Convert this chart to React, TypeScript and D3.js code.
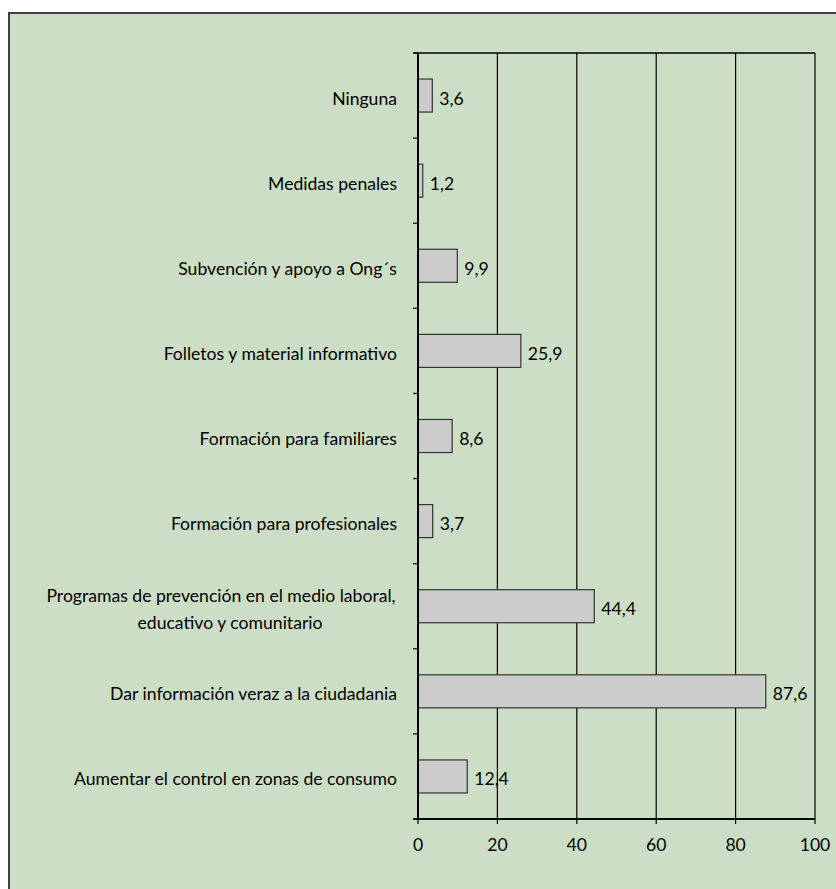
import React from "react";
import * as d3 from "d3";

// Categories from top to bottom, with their percentages
const categories: string[][] = [
  ["Ninguna"],
  ["Medidas penales"],
  ["Subvención y apoyo a Ong´s"],
  ["Folletos y material informativo"],
  ["Formación para familiares"],
  ["Formación para profesionales"],
  ["Programas de prevención en el medio laboral,", "educativo y comunitario"],
  ["Dar información veraz a la ciudadania"],
  ["Aumentar el control en zonas de consumo"],
];
const values: number[] = [3.6, 1.2, 9.9, 25.9, 8.6, 3.7, 44.4, 87.6, 12.4];
const xTicks: number[] = [0, 20, 40, 60, 80, 100];

const W = 836;
const H = 889;
const BG = "#CCDEC6";
const FONT = "Lato, 'Open Sans', sans-serif";
const FS = 17.6;

const fmt = (v: number) => v.toFixed(1).replace(".", ",");

export default function App() {
  const left = 418;
  const right = 815;
  const top = 53;
  const bottom = 819;

  const x = d3.scaleLinear().domain([0, 100]).range([left, right]);
  const keys = categories.map((_, i) => String(i));
  const y = d3
    .scaleBand<string>()
    .domain(keys)
    .range([top, bottom])
    .paddingInner(0.612)
    .paddingOuter(0.306);
  const band = (bottom - top) / categories.length;
  const center = (i: number) => top + band * (i + 0.5);

  return (
    <div style={{ position: "absolute", left: 0, top: 0, width: W, height: H }}>
      <svg width={W} height={H} style={{ display: "block" }} fontFamily={FONT}>
        <rect x={0} y={0} width={W} height={H} fill="#ffffff" />
        <rect x={9} y={13} width={W + 20} height={H + 20} fill={BG} stroke="#404040" strokeWidth={2} />

        {/* vertical gridlines */}
        {xTicks.slice(1).map((t) => (
          <line key={"g" + t} x1={x(t)} x2={x(t)} y1={top} y2={bottom} stroke="#000" strokeWidth={1.2} />
        ))}
        {/* top edge of plot */}
        <line x1={left - 5} x2={right} y1={top} y2={top} stroke="#000" strokeWidth={1.5} />

        {/* bars */}
        {values.map((v, i) => (
          <rect
            key={"b" + i}
            x={x(0)}
            y={y(String(i))!}
            width={x(v) - x(0)}
            height={y.bandwidth()}
            fill="#CCCCCC"
            stroke="#333333"
            strokeWidth={1.2}
          />
        ))}

        {/* value labels */}
        {values.map((v, i) => (
          <text key={"v" + i} x={x(v) + 7} y={center(i) + 9} fontSize={FS} fill="#000">
            {fmt(v)}
          </text>
        ))}

        {/* category axis */}
        <line x1={left} x2={left} y1={top} y2={bottom} stroke="#000" strokeWidth={2} />
        {d3.range(categories.length + 1).map((k) => (
          <line
            key={"t" + k}
            x1={left - 5}
            x2={left}
            y1={top + band * k}
            y2={top + band * k}
            stroke="#000"
            strokeWidth={1.2}
          />
        ))}
        {categories.map((lines, i) => {
          if (lines.length === 1) {
            return (
              <text key={"c" + i} x={397} y={center(i) + 9} textAnchor="end" fontSize={FS} fill="#000">
                {lines[0]}
              </text>
            );
          }
          const cx = 226;
          return (
            <text key={"c" + i} textAnchor="middle" fontSize={FS} fill="#000">
              {lines.map((l, j) => (
                <tspan key={j} x={cx + (j === 0 ? -5 : 4)} y={center(i) - 4 + j * 26.7}>
                  {l}
                </tspan>
              ))}
            </text>
          );
        })}

        {/* value axis */}
        <line x1={left - 5} x2={right} y1={bottom} y2={bottom} stroke="#000" strokeWidth={2} />
        {xTicks.map((t) => (
          <g key={"x" + t}>
            <line x1={x(t)} x2={x(t)} y1={bottom} y2={bottom + 5} stroke="#000" strokeWidth={1.2} />
            <text x={x(t)} y={bottom + 32} textAnchor="middle" fontSize={FS} fill="#000">
              {t}
            </text>
          </g>
        ))}
      </svg>
    </div>
  );
}
